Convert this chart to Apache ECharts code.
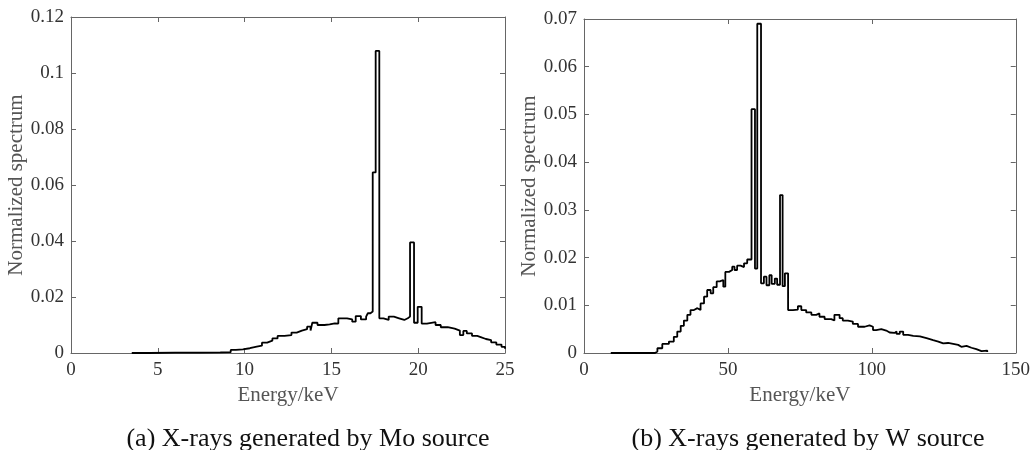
<!DOCTYPE html>
<html>
<head>
<meta charset="utf-8">
<script src="https://cdn.jsdelivr.net/npm/echarts@6/dist/echarts.min.js"></script>
<style>html,body{margin:0;padding:0;background:#fff;}#c{width:1033px;height:450px;}</style>
</head>
<body>
<div id="c"></div>
<script>
// Mo source spectrum (energy keV, normalized value), step bins
const moE = [3.5, 4.5, 6.0, 7.4, 8.6, 9.2, 9.5, 9.9, 10.3, 10.7, 11.0, 11.3, 11.6, 11.9, 12.3, 12.7, 13.0, 13.3, 13.6, 13.8, 13.9, 14.2, 14.6, 14.9, 15.2, 15.4, 15.9, 16.2, 16.4, 16.7, 17.0, 17.1, 17.25, 17.38, 17.55, 17.76, 18.0, 18.3, 18.6, 18.9, 19.2, 19.4, 19.53, 19.76, 19.97, 20.2, 20.5, 21.0, 21.3, 21.7, 22.1, 22.4, 22.6, 22.8, 23.1, 23.4, 23.6, 23.9, 24.2, 24.5, 24.8, 25.0];
const moV = [0.0000, 0.0001, 0.0001, 0.0002, 0.0003, 0.0011, 0.0013, 0.0017, 0.0023, 0.0026, 0.0037, 0.0044, 0.0052, 0.0061, 0.0064, 0.0073, 0.0080, 0.0085, 0.0094, 0.0080, 0.0108, 0.0100, 0.0102, 0.0106, 0.0105, 0.0124, 0.0120, 0.0112, 0.0132, 0.0120, 0.0130, 0.0142, 0.0148, 0.0645, 0.1079, 0.0124, 0.0118, 0.0130, 0.0124, 0.0118, 0.0124, 0.0130, 0.0395, 0.0108, 0.0165, 0.0105, 0.0110, 0.0100, 0.0092, 0.0087, 0.0080, 0.0064, 0.0079, 0.0070, 0.0061, 0.0057, 0.0050, 0.0046, 0.0038, 0.0030, 0.0022, 0.0015];

// W source spectrum
const wE = [9.3, 24.7, 25.5, 27.2, 29.5, 31.2, 32.4, 33.6, 34.7, 35.9, 37.0, 38.2, 39.4, 40.5, 41.7, 42.8, 44.0, 44.9, 46.1, 47.2, 48.4, 49.1, 50.4, 51.5, 52.3, 53.2, 54.4, 55.6, 56.7, 58.2, 59.4, 60.2, 61.5, 62.5, 63.4, 64.4, 65.2, 66.3, 67.1, 68.1, 69.0, 69.8, 70.9, 72.6, 74.3, 75.5, 77.2, 79.0, 80.7, 81.8, 83.6, 85.9, 87.0, 88.8, 89.9, 91.7, 93.4, 95.2, 97.5, 99.2, 100.4, 101.5, 103.3, 105.0, 106.2, 107.9, 108.6, 109.7, 110.9, 112.6, 114.4, 116.7, 119.0, 121.3, 123.1, 124.8, 126.5, 130.0, 131.1, 132.9, 134.6, 136.3, 138.1, 140.1];
const wV = [0.0000, 0.0003, 0.0010, 0.0019, 0.0024, 0.0034, 0.0045, 0.0057, 0.0068, 0.0080, 0.0090, 0.0094, 0.0090, 0.0104, 0.0118, 0.0132, 0.0125, 0.0138, 0.0150, 0.0153, 0.0139, 0.0170, 0.0174, 0.0181, 0.0174, 0.0183, 0.0180, 0.0188, 0.0196, 0.0511, 0.0177, 0.0690, 0.0146, 0.0160, 0.0142, 0.0163, 0.0145, 0.0156, 0.0143, 0.0331, 0.0140, 0.0167, 0.0090, 0.0091, 0.0098, 0.0090, 0.0085, 0.0080, 0.0083, 0.0076, 0.0071, 0.0068, 0.0080, 0.0073, 0.0068, 0.0066, 0.0061, 0.0055, 0.0058, 0.0055, 0.0048, 0.0050, 0.0047, 0.0043, 0.0042, 0.0045, 0.0040, 0.0045, 0.0038, 0.0036, 0.0035, 0.0031, 0.0027, 0.0024, 0.0020, 0.0021, 0.0017, 0.0013, 0.0015, 0.0011, 0.0008, 0.0004, 0.0005, 0.0002, 0.0002];

const yTitle = 'Normalized spectrum';
const xTitle = 'Energy/keV';
const captions = ['(a) X-rays generated by Mo source', '(b) X-rays generated by W source'];

const FONT = '"Liberation Serif", "Times New Roman", serif';
const AX = '#666';
const TXT = '#333';

function pairs(xs, ys) { return xs.map((x, i) => [x, ys[i]]); }

function mainX(grid, min, max, interval) {
  return {
    type: 'value', gridIndex: grid, min: min, max: max, interval: interval, position: 'bottom',
    name: xTitle, nameLocation: 'middle', nameGap: 31,
    nameTextStyle: { fontFamily: FONT, fontSize: 21, color: '#555' },
    axisLine: { show: true, onZero: false, lineStyle: { color: AX, width: 1 } },
    axisTick: { show: true, inside: true, length: 5, lineStyle: { color: AX } },
    axisLabel: { fontFamily: FONT, fontSize: 19, color: TXT, margin: 8 },
    splitLine: { show: false }
  };
}
function secX(grid, min, max, interval) {
  return {
    type: 'value', gridIndex: grid, min: min, max: max, interval: interval, position: 'top',
    axisLine: { show: true, onZero: false, lineStyle: { color: AX, width: 1 } },
    axisTick: { show: true, inside: true, length: 5, lineStyle: { color: AX } },
    axisLabel: { show: false }, splitLine: { show: false }
  };
}
function mainY(grid, min, max, interval) {
  return {
    type: 'value', gridIndex: grid, min: min, max: max, interval: interval, position: 'left',
    name: yTitle, nameLocation: 'middle', nameGap: 43, nameRotate: 90,
    nameTextStyle: { fontFamily: FONT, fontSize: 21, color: '#555' },
    axisLine: { show: true, onZero: false, lineStyle: { color: AX, width: 1 } },
    axisTick: { show: true, inside: true, length: 5, lineStyle: { color: AX } },
    axisLabel: { fontFamily: FONT, fontSize: 19, color: TXT, margin: 7 },
    splitLine: { show: false }
  };
}
function secY(grid, min, max, interval) {
  return {
    type: 'value', gridIndex: grid, min: min, max: max, interval: interval, position: 'right',
    axisLine: { show: true, onZero: false, lineStyle: { color: AX, width: 1 } },
    axisTick: { show: true, inside: true, length: 5, lineStyle: { color: AX } },
    axisLabel: { show: false }, splitLine: { show: false }
  };
}

const chart = echarts.init(document.getElementById('c'), null, { renderer: 'canvas' });
chart.setOption({
  animation: false,
  backgroundColor: '#fff',
  grid: [
    { left: 71, top: 17, width: 434, height: 336 },
    { left: 584, top: 19, width: 432, height: 334 }
  ],
  xAxis: [
    mainX(0, 0, 25, 5), secX(0, 0, 25, 5),
    mainX(1, 0, 150, 50), secX(1, 0, 150, 50)
  ],
  yAxis: [
    mainY(0, 0, 0.12, 0.02), secY(0, 0, 0.12, 0.02),
    mainY(1, 0, 0.07, 0.01), secY(1, 0, 0.07, 0.01)
  ],
  series: [
    { type: 'line', xAxisIndex: 0, yAxisIndex: 0, step: 'end', showSymbol: false,
      lineStyle: { color: '#000', width: 1.8 }, data: pairs(moE, moV) },
    { type: 'line', xAxisIndex: 2, yAxisIndex: 2, step: 'end', showSymbol: false,
      lineStyle: { color: '#000', width: 1.8 }, data: pairs(wE, wV) }
  ],
  graphic: [
    { type: 'text', x: 308, y: 439, style: { text: captions[0], fontFamily: FONT, fontSize: 26, fill: '#111', align: 'center', verticalAlign: 'middle' } },
    { type: 'text', x: 808, y: 439, style: { text: captions[1], fontFamily: FONT, fontSize: 26, fill: '#111', align: 'center', verticalAlign: 'middle' } }
  ]
});
</script>
</body>
</html>
